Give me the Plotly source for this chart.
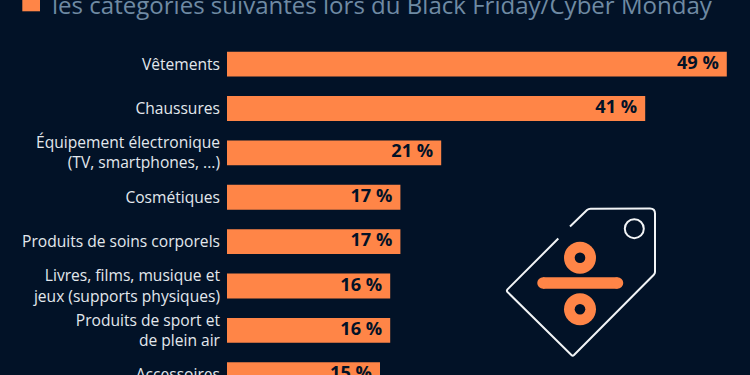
import plotly.graph_objects as go

categories = ["Vêtements", "Chaussures", "Équipement électronique<br>(TV, smartphones, ...)",
              "Cosmétiques", "Produits de soins corporels",
              "Livres, films, musique et<br>jeux (supports physiques)",
              "Produits de sport et<br>de plein air", "Accessoires"]
values = [49, 41, 21, 17, 17, 16, 16, 15]
title_text = "les catégories suivantes lors du Black Friday/Cyber Monday"

BG = "#021227"
ORANGE = "#FF8547"
W, H = 750, 375
L = 227
PX_PER_UNIT = 10.2
LABEL_INSET = 8 / PX_PER_UNIT

def px(x): return (x - L) / (W - L)
def py(y): return 1 - y / H
def pt(x, y): return f"{px(x)},{py(y)}"

fig = go.Figure()
fig.add_trace(go.Bar(
    y=categories, x=values, orientation="h", width=0.56,
    marker=dict(color=ORANGE, line=dict(width=0)), hoverinfo="skip",
))
fig.add_trace(go.Scatter(
    y=categories, x=[v - LABEL_INSET for v in values], mode="text",
    text=[f"{v} %" for v in values], textposition="middle left", cliponaxis=False,
    textfont=dict(family="Open Sans", size=18.2, color=BG, weight=700),
    hoverinfo="skip",
))

shapes = [
    dict(type="rect", xref="paper", yref="paper", x0=px(22.3), x1=px(40), y0=py(11.3), y1=py(-8),
         fillcolor=ORANGE, line_width=0, layer="above"),
]
path = ("M" + pt(570, 226.5) + "L" + pt(587, 210) + "Q" + pt(588.5, 208.7) + " " + pt(590.5, 208.7)
        + "L" + pt(650, 208.5) + "Q" + pt(655, 208.5) + " " + pt(655, 213.5)
        + "L" + pt(655, 272) + "Q" + pt(655, 273.5) + " " + pt(653.8, 274.7)
        + "L" + pt(574, 355) + "Q" + pt(572.7, 356.2) + " " + pt(571.4, 355)
        + "L" + pt(507.5, 292) + "Q" + pt(506.3, 290.7) + " " + pt(507.5, 289.4)
        + "L" + pt(558.3, 238.5))
shapes.append(dict(type="path", xref="paper", yref="paper", path=path,
                   line=dict(color="#F2F4F6", width=2), layer="above"))

def circle(cx, cy, r, **kw):
    return dict(type="circle", xref="paper", yref="paper", x0=px(cx - r), x1=px(cx + r),
                y0=py(cy + r), y1=py(cy - r), layer="above", **kw)

shapes.append(circle(634.3, 228.7, 9.5, line=dict(color="#F2F4F6", width=2), fillcolor="rgba(0,0,0,0)"))
for cy in (257.7, 309.3):
    shapes.append(circle(580, cy, 16, fillcolor=ORANGE, line_width=0))
    shapes.append(circle(580, cy, 5.3, fillcolor=BG, line_width=0))
shapes.append(dict(type="line", xref="paper", yref="paper", x0=px(543), x1=px(617.5), y0=py(283), y1=py(283),
                   line=dict(color=ORANGE, width=11.5), layer="above"))
shapes.append(circle(543, 283, 5.75, fillcolor=ORANGE, line_width=0))
shapes.append(circle(617.5, 283, 5.75, fillcolor=ORANGE, line_width=0))

fig.update_layout(
    width=W, height=H, margin=dict(l=L, r=0, t=0, b=0), autosize=False,
    paper_bgcolor=BG, plot_bgcolor=BG, showlegend=False, shapes=shapes,
    xaxis=dict(range=[0, (W - L) / PX_PER_UNIT], visible=False, fixedrange=True, automargin=False),
    yaxis=dict(type="category", categoryorder="array", categoryarray=categories, automargin=False,
               range=[7.005, -1.445], showgrid=False, zeroline=False, showline=False,
               ticks="", ticklabelstandoff=6,
               tickfont=dict(family="Open Sans", size=15.6, color="#E3E8ED")),
    annotations=[dict(text=title_text, xref="paper", yref="paper", x=px(49.7), y=py(4),
                      xanchor="left", yanchor="middle", showarrow=False,
                      font=dict(family="Open Sans", size=24.05, color="#6F8AA3"))],
)
fig.write_html("out.html", config={"displayModeBar": False},
               post_script="document.body.style.margin='0';document.body.style.overflow='hidden';document.body.style.background='#021227';")
